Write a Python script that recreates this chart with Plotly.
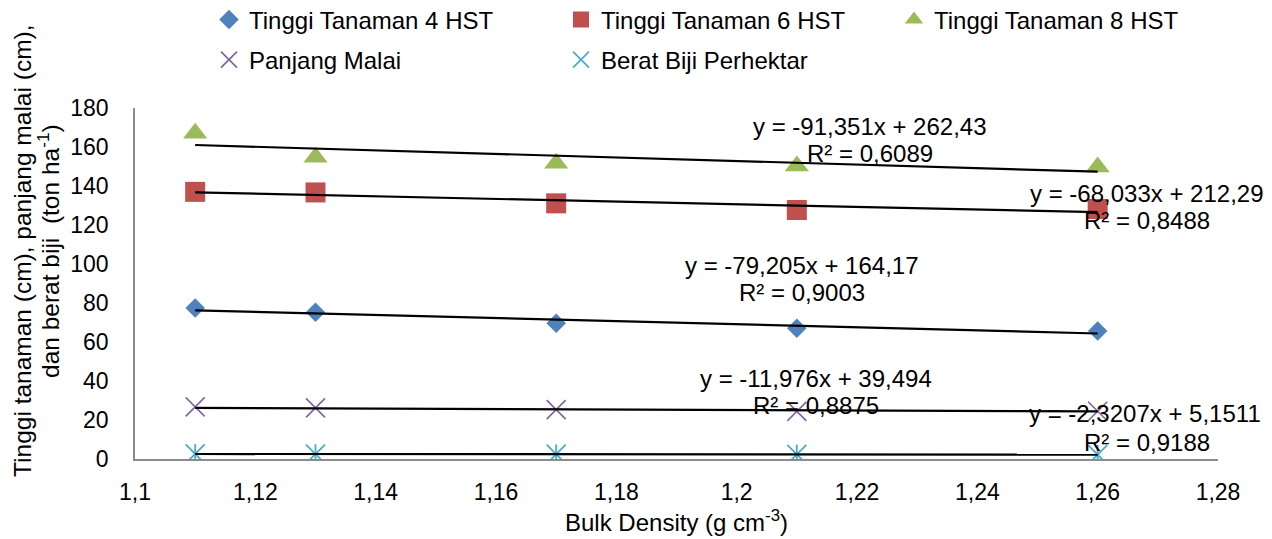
import plotly.graph_objects as go

# ---------------- data ----------------
bulk_density = [1.11, 1.13, 1.17, 1.21, 1.26]
tinggi_4hst = [77.4, 75.3, 69.6, 67.1, 65.7]
tinggi_6hst = [137.0, 136.7, 131.1, 127.7, 128.2]
tinggi_8hst = [167.0, 154.7, 151.7, 150.3, 149.7]
panjang_malai = [26.7, 26.2, 25.3, 24.4, 24.5]
berat_biji = [2.6, 2.55, 2.45, 2.35, 2.2]

series_names = ["Tinggi Tanaman 4 HST", "Tinggi Tanaman 6 HST", "Tinggi Tanaman 8 HST",
                "Panjang Malai", "Berat Biji Perhektar"]

# linear trendlines as printed on the chart (slope, intercept)
trend_slopes = [-79.205, -68.033, -91.351, -11.976, -2.3207]
trend_intercepts = [164.17, 212.29, 262.43, 39.494, 5.1511]
trend_equations = ["y = -79,205x + 164,17", "y = -68,033x + 212,29", "y = -91,351x + 262,43",
                   "y = -11,976x + 39,494", "y = -2,3207x + 5,1511"]
trend_r2 = ["R² = 0,9003", "R² = 0,8488", "R² = 0,6089", "R² = 0,8875", "R² = 0,9188"]

x_title = "Bulk Density (g cm<sup>-3</sup>)"
y_title_lines = ["Tinggi tanaman (cm), panjang malai (cm),", "dan berat biji  (ton ha<sup>-1</sup>)"]

# ---------------- layout geometry (pixels) ----------------
W, H = 1272, 539
ML, MR, MT, MB = 135, 54, 108, 80
FONT = "Liberation Sans, Arial, sans-serif"
FS = 24
FS_TICK = 23


def px(x):
    return (x - ML) / (W - ML - MR)


def py(y):
    return (H - MB - y) / (H - MT - MB)


# equation label centers (eq line, R2 line)
eq_pos = [((802, 265), (802, 292)), ((1147, 193), (1147, 220)), ((870, 126), (870, 153)),
          ((816, 378), (816, 405)), ((1145, 413), (1147, 442))]
legend_pos = [(229, 20), (581, 20), (914, 20), (229, 60), (581, 60)]

colors = ["#4F81BD", "#C0504D", "#9BBB59", "#8064A2", "#4BACC6"]
series_vals = [tinggi_4hst, tinggi_6hst, tinggi_8hst, panjang_malai, berat_biji]

fig = go.Figure()

marker_styles = [
    dict(symbol="diamond", size=15, color=colors[0]),
    dict(symbol="square", size=20, color=colors[1]),
    dict(symbol="triangle-up", size=21, color=colors[2]),
    dict(symbol="x-thin", size=19, color=colors[3], line=dict(color=colors[3], width=1.6)),
    dict(symbol="x-thin", size=19, color=colors[4], line=dict(color=colors[4], width=1.8)),
]

for i, (name, vals) in enumerate(zip(series_names, series_vals)):
    fig.add_trace(go.Scatter(
        x=bulk_density, y=vals, mode="markers", name=name,
        marker=marker_styles[i],
        legend="legend" if i == 0 else f"legend{i + 1}",
    ))

# vertical stroke to complete the asterisk-like marker of Berat Biji
fig.add_trace(go.Scatter(
    x=bulk_density, y=berat_biji, mode="markers", showlegend=False,
    marker=dict(symbol="line-ns", size=14, color=colors[4], line=dict(color=colors[4], width=1.8)),
))

# trendlines
x_ends = [min(bulk_density), max(bulk_density)]
for s, b in zip(trend_slopes, trend_intercepts):
    fig.add_trace(go.Scatter(
        x=x_ends, y=[s * xv + b for xv in x_ends], mode="lines",
        line=dict(color="black", width=2.2), showlegend=False, hoverinfo="skip",
    ))

annotations = []
for (eq, r2, ((ex, ey), (rx, ry))) in zip(trend_equations, trend_r2, eq_pos):
    annotations.append(dict(text=eq, x=px(ex), y=py(ey), xref="paper", yref="paper",
                            xanchor="center", yanchor="middle", showarrow=False,
                            font=dict(size=FS, family=FONT, color="black")))
    annotations.append(dict(text=r2, x=px(rx), y=py(ry), xref="paper", yref="paper",
                            xanchor="center", yanchor="middle", showarrow=False,
                            font=dict(size=FS, family=FONT, color="black")))

annotations.append(dict(text=x_title, x=px(676), y=py(521), xref="paper", yref="paper",
                        xanchor="center", yanchor="middle", showarrow=False,
                        font=dict(size=FS, family=FONT, color="black")))
for line, lx in zip(y_title_lines, [22, 48]):
    annotations.append(dict(text=line, x=px(lx), y=py(251), xref="paper", yref="paper",
                            xanchor="center", yanchor="middle", showarrow=False, textangle=-90,
                            font=dict(size=24.5, family=FONT, color="black")))

legends = {}
for i, (mx, my) in enumerate(legend_pos):
    key = "legend" if i == 0 else f"legend{i + 1}"
    legends[key] = dict(x=px(mx - 20), y=py(my), xanchor="left", yanchor="middle",
                        bgcolor="rgba(0,0,0,0)", borderwidth=0,
                        font=dict(size=FS, family=FONT, color="black"))

fig.update_layout(
    width=W, height=H,
    margin=dict(l=ML, r=MR, t=MT, b=MB, autoexpand=False),
    paper_bgcolor="white", plot_bgcolor="white",
    separators=", ",
    font=dict(family=FONT, size=FS, color="black"),
    annotations=annotations,
    showlegend=True,
    **legends,
)

fig.update_xaxes(range=[1.1, 1.28], dtick=0.02, tick0=1.1, showgrid=False, zeroline=False,
                 showline=True, linecolor="#8C8C8C", linewidth=1.5, ticks="",
                 ticklabelstandoff=12, tickfont=dict(size=FS_TICK, family=FONT, color="black"))
fig.update_yaxes(range=[0, 180], dtick=20, tick0=0, showgrid=False, zeroline=False,
                 showline=True, linecolor="#8C8C8C", linewidth=1.5, ticks="",
                 ticklabelstandoff=20, tickfont=dict(size=FS_TICK, family=FONT, color="black"))

fig.write_html("out.html", config={"displayModeBar": False},
               post_script="document.body.style.margin='0';document.body.style.overflow='hidden';")
